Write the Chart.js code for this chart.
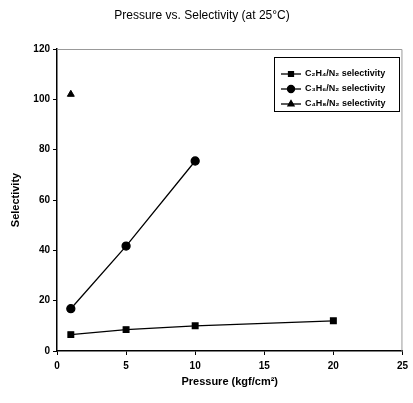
<!DOCTYPE html>
<html lang="en">
<head>
  <meta charset="UTF-8" />
  <title>Pressure vs. Selectivity</title>
  <script src="https://cdn.jsdelivr.net/npm/chart.js"></script>
  <style>
    body { margin: 0; background: #fff; }
    #wrap { width: 413px; height: 403px; }
  </style>
</head>
<body>
  <div id="wrap"><canvas id="chart" width="413" height="403"></canvas></div>

  <script>
    // data
    const seriesNames = ['C₂H₄/N₂ selectivity', 'C₃H₆/N₂ selectivity', 'C₄H₈/N₂ selectivity'];
    const pressure1 = [1, 5, 10, 20];
    const selectivity1 = [6.5, 8.5, 10, 12];
    const pressure2 = [1, 5, 10];
    const selectivity2 = [16.8, 41.7, 75.5];
    const pressure3 = [1];
    const selectivity3 = [102];
    const xTicks = [0, 5, 10, 15, 20, 25];
    const yTicks = [0, 20, 40, 60, 80, 100, 120];

    const toPoints = (xs, ys) => xs.map((x, i) => ({ x: x, y: ys[i] }));

    // legend box drawn inside the plot, plus the frame on top/right
    const boxLegend = {
      id: 'boxLegend',
      afterDraw(chart) {
        const { ctx, chartArea } = chart;
        ctx.save();
        ctx.strokeStyle = '#999';
        ctx.lineWidth = 1;
        ctx.beginPath();
        ctx.moveTo(chartArea.left, chartArea.top + 0.5);
        ctx.lineTo(chartArea.right - 0.5, chartArea.top + 0.5);
        ctx.lineTo(chartArea.right - 0.5, chartArea.bottom);
        ctx.stroke();

        const bx = 274, by = 57, bw = 125, bh = 54;
        ctx.fillStyle = '#fff';
        ctx.fillRect(bx, by, bw, bh);
        ctx.strokeStyle = '#000';
        ctx.strokeRect(bx + 0.5, by + 0.5, bw, bh);

        ctx.font = 'bold 9px "Liberation Sans", Arial, sans-serif';
        ctx.textBaseline = 'middle';
        chart.data.datasets.forEach((ds, i) => {
          const y = by + 17 + i * 15;
          ctx.strokeStyle = '#000';
          ctx.lineWidth = 1.3;
          ctx.beginPath();
          ctx.moveTo(281, y);
          ctx.lineTo(301, y);
          ctx.stroke();
          ctx.fillStyle = '#000';
          Chart.helpers.drawPoint(ctx, { pointStyle: ds.pointStyle, radius: 3.5, borderWidth: 1 }, 291, y);
          ctx.fill();
          ctx.fillStyle = '#000';
          ctx.fillText(ds.label, 305, y);
        });
        ctx.restore();
      }
    };

    const ctx = document.getElementById('chart').getContext('2d');
    new Chart(ctx, {
      type: 'scatter',
      data: {
        datasets: [
          {
            label: seriesNames[0],
            data: toPoints(pressure1, selectivity1),
            showLine: true,
            borderColor: '#000',
            backgroundColor: '#000',
            borderWidth: 1.3,
            pointStyle: 'rect',
            pointRadius: 4
          },
          {
            label: seriesNames[1],
            data: toPoints(pressure2, selectivity2),
            showLine: true,
            borderColor: '#000',
            backgroundColor: '#000',
            borderWidth: 1.3,
            pointStyle: 'circle',
            pointRadius: 4
          },
          {
            label: seriesNames[2],
            data: toPoints(pressure3, selectivity3),
            showLine: false,
            borderColor: '#000',
            backgroundColor: '#000',
            borderWidth: 1,
            pointStyle: 'triangle',
            pointRadius: 4
          }
        ]
      },
      options: {
        responsive: false,
        animation: false,
        layout: { padding: { left: 0, right: 9, top: 0, bottom: 0 } },
        plugins: {
          legend: { display: false },
          tooltip: { enabled: false },
          title: {
            display: true,
            text: 'Pressure vs. Selectivity (at 25°C)',
            color: '#000',
            font: { family: '"Liberation Sans", Arial, sans-serif', size: 12, weight: 'normal' },
            padding: { top: 8, bottom: 26.6 }
          }
        },
        scales: {
          x: {
            type: 'linear',
            min: 0,
            max: 25,
            afterBuildTicks: s => { s.ticks = xTicks.map(v => ({ value: v })); },
            afterFit: s => { s.height = 52; },
            ticks: {
              color: '#000',
              padding: 5,
              font: { family: '"Liberation Sans", Arial, sans-serif', size: 10, weight: 'bold' }
            },
            grid: { drawOnChartArea: false, drawTicks: true, tickLength: 4, color: '#000' },
            border: { display: true, color: '#000', width: 1.5 },
            title: {
              display: true,
              text: 'Pressure (kgf/cm²)',
              color: '#000',
              font: { family: '"Liberation Sans", Arial, sans-serif', size: 11, weight: 'bold' },
              padding: { top: 4, bottom: 14 }
            }
          },
          y: {
            type: 'linear',
            min: 0,
            max: 120,
            afterBuildTicks: s => { s.ticks = yTicks.map(v => ({ value: v })); },
            afterFit: s => { s.width = 57; },
            ticks: {
              color: '#000',
              padding: 3,
              font: { family: '"Liberation Sans", Arial, sans-serif', size: 10, weight: 'bold' }
            },
            grid: { drawOnChartArea: false, drawTicks: true, tickLength: 4, color: '#000' },
            border: { display: true, color: '#000', width: 1.5 },
            title: {
              display: true,
              text: 'Selectivity',
              color: '#000',
              font: { family: '"Liberation Sans", Arial, sans-serif', size: 11, weight: 'bold' },
              padding: { top: 9, bottom: 0 }
            }
          }
        }
      },
      plugins: [boxLegend]
    });
  </script>
</body>
</html>
